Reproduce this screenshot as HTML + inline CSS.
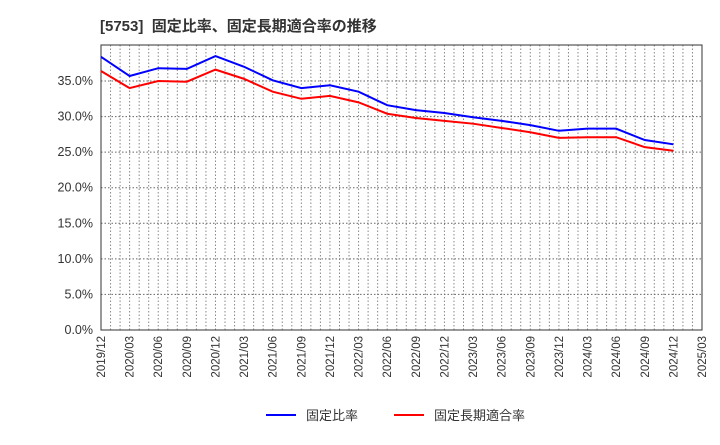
<!DOCTYPE html>
<html><head><meta charset="utf-8"><style>
body{margin:0;background:#fff;font-family:"Liberation Sans","Noto Sans CJK JP",sans-serif}
svg text{font-family:"Liberation Sans","Noto Sans CJK JP",sans-serif}
</style></head><body>
<svg id="c" width="720" height="440" xmlns="http://www.w3.org/2000/svg">
<text x="100" y="31" font-size="15" font-weight="bold" fill="#333" style="white-space:pre">[5753]  固定比率、固定長期適合率の推移</text>
</svg>
<script>
const categories=["2019/12","2020/03","2020/06","2020/09","2020/12","2021/03","2021/06","2021/09","2021/12","2022/03","2022/06","2022/09","2022/12","2023/03","2023/06","2023/09","2023/12","2024/03","2024/06","2024/09","2024/12","2025/03"];
const fixedRatio=[38.4,35.7,36.8,36.7,38.5,37.0,35.1,34.0,34.4,33.5,31.6,30.9,30.5,29.9,29.4,28.8,28.0,28.3,28.3,26.7,26.1];
const fixedLongTermRatio=[36.4,34.0,35.0,34.9,36.6,35.3,33.5,32.5,32.9,32.0,30.4,29.8,29.4,29.0,28.4,27.8,27.0,27.1,27.1,25.7,25.2];
const yTicks=[0,5,10,15,20,25,30,35];
const NS="http://www.w3.org/2000/svg";
const svg=document.getElementById('c');
const L=101,R=702,T=45,B=330;
const x=i=>L+i*(R-L)/(categories.length-1);
const y=v=>B-v*(B-81)/35;
function mk(t,a){const e=document.createElementNS(NS,t);for(const k in a)e.setAttribute(k,a[k]);svg.appendChild(e);return e;}
for(let m=1;m<(categories.length-1)*3;m++){const xx=L+m*(R-L)/((categories.length-1)*3);
const g=mk('line',{x1:xx,x2:xx,y1:T,y2:B,stroke:'#888','stroke-dasharray':'1.5,2','stroke-width':1});

}
yTicks.forEach(v=>{
if(v>0){const g=mk('line',{x1:L,x2:R,y1:y(v),y2:y(v),stroke:'#666','stroke-dasharray':'1.5,2','stroke-width':1});

}
const t=mk('text',{x:L-8,y:y(v)+4,'text-anchor':'end','font-size':12.5,fill:'#333'});t.textContent=v.toFixed(1)+'%';


});
categories.forEach((c,i)=>{
const t=mk('text',{x:0,y:0,'font-size':11.5,fill:'#333','text-anchor':'end',transform:`translate(${x(i)+4},336) rotate(-90)`});t.textContent=c;


});
const fr=mk('rect',{x:L,y:T,width:R-L,height:B-T,fill:'none',stroke:'#333','stroke-width':1});


function line(d,col,name){const p=mk('polyline',{points:d.map((v,i)=>x(i)+','+y(v)).join(' '),fill:'none',stroke:col,'stroke-width':2});

}
line(fixedLongTermRatio,'#ff0000','fixed-long-term-ratio-line');
line(fixedRatio,'#0000ff','fixed-ratio-line');
function leg(x0,col,label,name){const g=mk('line',{x1:x0,x2:x0+30,y1:415,y2:415,stroke:col,'stroke-width':2});


const t=mk('text',{x:x0+40,y:420,'font-size':13,fill:'#333'});t.textContent=label;

}
leg(266,'#0000ff','固定比率','legend-fixed-ratio');
leg(394,'#ff0000','固定長期適合率','legend-fixed-long-term-ratio');
</script>
</body></html>
